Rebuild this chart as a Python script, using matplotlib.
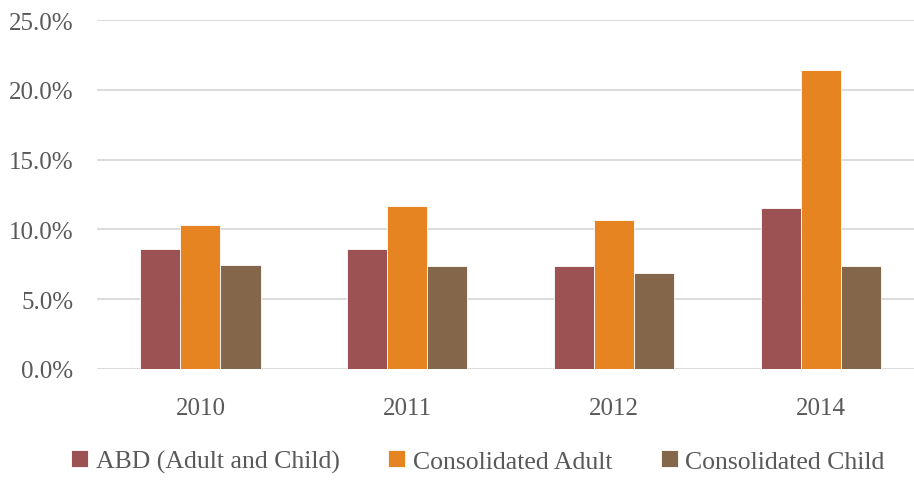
import matplotlib
matplotlib.use('Agg')
import matplotlib.pyplot as plt
from matplotlib.ticker import FuncFormatter
import numpy as np

years = ["2010", "2011", "2012", "2014"]
abd = [8.6, 8.6, 7.35, 11.5]
cons_adult = [10.3, 11.7, 10.7, 21.45]
cons_child = [7.45, 7.35, 6.85, 7.35]

series_names = ["ABD (Adult and Child)", "Consolidated Adult", "Consolidated Child"]
colors = ["#9C5252", "#E68422", "#84674A"]
text_color = "#595959"

plt.rcParams['font.family'] = ['Liberation Serif', 'DejaVu Serif']

fig = plt.figure(figsize=(9.14, 4.85), dpi=100)
ax = fig.add_axes([97 / 914, 115 / 485, 1 - 97 / 914, 349 / 485])

x = np.arange(len(years))
w = 0.194
for i, (vals, name, c) in enumerate(zip([abd, cons_adult, cons_child], series_names, colors)):
    ax.bar(x + (i - 1) * w, vals, width=w, color=c, label=name, zorder=3,
           edgecolor='white', linewidth=0.6)

ax.set_ylim(0, 25)
ax.set_yticks(np.arange(0, 25.1, 5))
ax.yaxis.set_major_formatter(FuncFormatter(lambda v, p: f"{v:.1f}%"))
ax.set_xlim(-0.5, 3.45)
ax.set_xticks(x)
ax.set_xticklabels(years)

ax.grid(axis='y', color='#D9D9D9', linewidth=1.3, zorder=0)
for s in ax.spines.values():
    s.set_visible(False)
ax.tick_params(axis='both', length=0, labelsize=18, colors=text_color)
ax.tick_params(axis='y', pad=17)
ax.tick_params(axis='x', pad=20)

leg = fig.legend(loc='lower center', bbox_to_anchor=(0.523, -0.025), ncol=3, frameon=False,
                 fontsize=18.5, handlelength=0.65, handleheight=0.65, handletextpad=0.3,
                 columnspacing=1.9, labelcolor=text_color)

fig.savefig("out.png", dpi=100)
